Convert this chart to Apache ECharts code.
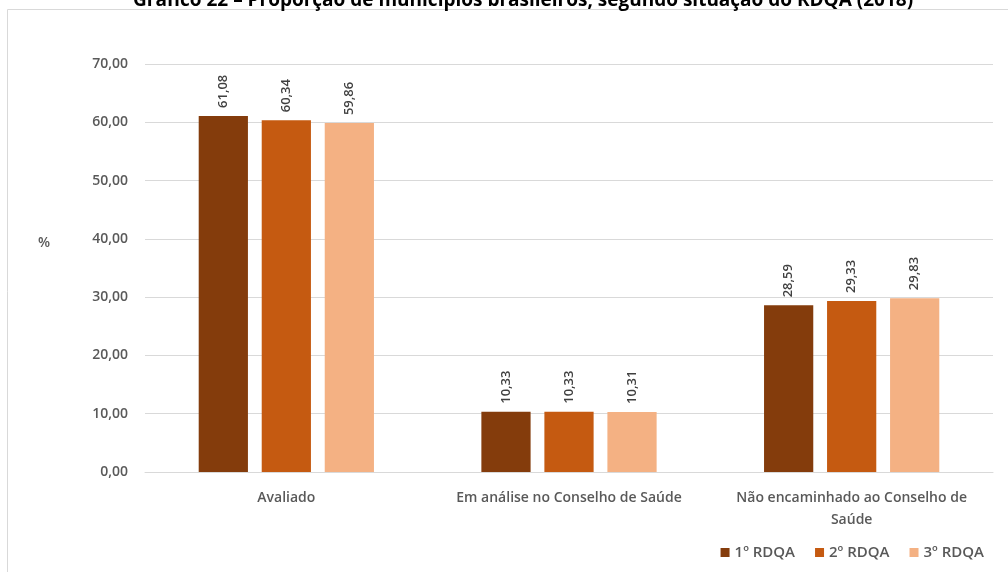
<!DOCTYPE html>
<html>
<head>
<meta charset="utf-8">
<script src="https://cdn.jsdelivr.net/npm/echarts@6/dist/echarts.min.js"></script>
<style>
html,body{margin:0;padding:0;background:#fff;}
#chart{width:1008px;height:572px;}
</style>
</head>
<body>
<div id="chart"></div>
<script>
const titleText = 'Gráfico 22 – Proporção de municípios brasileiros, segundo situação do RDQA (2018)';
const yAxisTitle = '%';
const categories = ['Avaliado', 'Em análise no Conselho de Saúde', 'Não encaminhado ao Conselho de\nSaúde'];
const seriesNames = ['1º RDQA', '2º RDQA', '3º RDQA'];
const rdqa1 = [61.08, 10.33, 28.59];
const rdqa2 = [60.34, 10.33, 29.33];
const rdqa3 = [59.86, 10.31, 29.83];
const yTicks = {min: 0, max: 70, interval: 10};
const colors = ['#843C0C', '#C55A11', '#F4B183'];

const FONT = '"Open Sans", "Noto Sans", sans-serif';
const fmt = v => Number(v).toFixed(2).replace('.', ',');

const chart = echarts.init(document.getElementById('chart'), null, {renderer: 'canvas'});
const mk = (name, data, i) => ({
  name: name,
  type: 'bar',
  data: data,
  barGap: '28%',
  barCategoryGap: '38%',
  itemStyle: {color: colors[i]},
  label: {
    show: true,
    position: 'top',
    rotate: 90,
    align: 'left',
    verticalAlign: 'middle',
    distance: 8,
    fontFamily: FONT,
    fontSize: 13,
    fontWeight: 600,
    color: '#404040',
    formatter: p => fmt(p.value)
  }
});

chart.setOption({
  animation: false,
  title: {
    text: titleText,
    left: 128,
    top: -14,
    textStyle: {fontFamily: FONT, fontSize: 19, fontWeight: 'bold', color: '#000'}
  },
  graphic: [{
    type: 'rect',
    shape: {x: 7.5, y: 9.5, width: 1010, height: 600},
    style: {fill: 'none', stroke: '#D9D9D9', lineWidth: 1},
    silent: true,
    z: -1
  }, {
    type: 'text',
    left: 38,
    top: 236,
    style: {text: yAxisTitle, font: '600 14px "Open Sans", sans-serif', fill: '#595959'},
    silent: true
  }],
  grid: {left: 145, right: 15, top: 64, bottom: 100, containLabel: false},
  legend: {
    data: seriesNames,
    right: 19,
    bottom: 7,
    itemWidth: 9,
    itemHeight: 9,
    itemGap: 20,
    icon: 'rect',
    textStyle: {fontFamily: FONT, fontSize: 15, fontWeight: 600, color: '#595959'}
  },
  xAxis: {
    type: 'category',
    data: categories,
    axisLine: {lineStyle: {color: '#D9D9D9'}},
    axisTick: {show: false},
    axisLabel: {
      interval: 0,
      fontFamily: FONT,
      fontSize: 14,
      fontWeight: 600,
      color: '#595959',
      margin: 15,
      lineHeight: 22
    }
  },
  yAxis: {
    type: 'value',
    min: yTicks.min,
    max: yTicks.max,
    interval: yTicks.interval,
    axisLine: {show: false},
    axisTick: {show: false},
    splitLine: {lineStyle: {color: '#D9D9D9'}},
    axisLabel: {
      fontFamily: FONT,
      fontSize: 14,
      fontWeight: 600,
      color: '#595959',
      margin: 17,
      formatter: v => fmt(v)
    }
  },
  series: [mk(seriesNames[0], rdqa1, 0), mk(seriesNames[1], rdqa2, 1), mk(seriesNames[2], rdqa3, 2)]
});
</script>
</body>
</html>
